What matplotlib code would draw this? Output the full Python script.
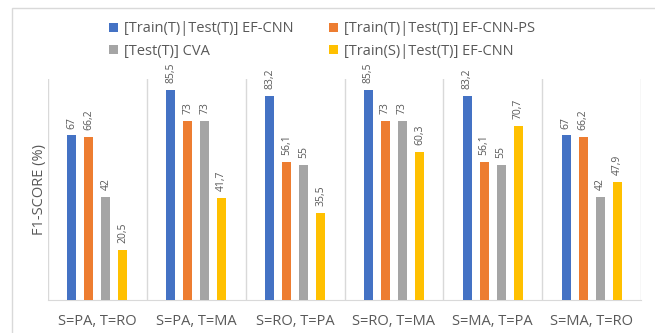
import matplotlib.pyplot as plt
import numpy as np
from matplotlib.patches import Rectangle

plt.rcParams['font.family'] = ['Open Sans', 'DejaVu Sans']

categories = ["S=PA, T=RO", "S=PA, T=MA", "S=RO, T=PA",
              "S=RO, T=MA", "S=MA, T=PA", "S=MA, T=RO"]
series_names = ["[Train(T)|Test(T)] EF-CNN", "[Train(T)|Test(T)] EF-CNN-PS",
                "[Test(T)] CVA", "[Train(S)|Test(T)] EF-CNN"]
ef_cnn = [67, 85.5, 83.2, 85.5, 83.2, 67]
ef_cnn_ps = [66.2, 73, 56.1, 73, 56.1, 66.2]
cva = [42, 73, 55, 73, 55, 42]
ef_cnn_src = [20.5, 41.7, 35.5, 60.3, 70.7, 47.9]

colors = ["#4472C4", "#ED7D31", "#A5A5A5", "#FFC000"]
text_gray = "#595959"
line_gray = "#D9D9D9"

fig = plt.figure(figsize=(6.55, 3.33), dpi=100)
# outer chart frame
fig.patches.append(Rectangle((12 / 655, -0.1), 1.0, 1.1 - 8 / 333,
                             transform=fig.transFigure, fill=False,
                             edgecolor=line_gray, linewidth=1))

ax = fig.add_axes([48 / 655, 33 / 333, 593 / 655, 221 / 333])
x = np.arange(len(categories))
offsets = [-0.258, -0.086, 0.086, 0.258]
all_series = [ef_cnn, ef_cnn_ps, cva, ef_cnn_src]

handles = []
for vals, off, col, name in zip(all_series, offsets, colors, series_names):
    bars = ax.bar(x + off, vals, width=0.09, color=col, label=name, zorder=3)
    handles.append(bars)
    for xi, v in zip(x + off, vals):
        ax.annotate(f"{v:g}".replace(".", ","), (xi, v), xytext=(0, 5),
                    textcoords="offset points", rotation=90, ha="center",
                    va="bottom", fontsize=7.5, color=text_gray,
                    annotation_clip=False)

ax.set_xlim(-0.5, len(categories) - 0.5)
ax.set_ylim(0, 90)
ax.set_xticks(x)
ax.set_xticklabels(categories, fontsize=10.5, color=text_gray)
ax.set_xticks(np.arange(-0.5, len(categories), 1), minor=True)
ax.grid(which="minor", axis="x", color=line_gray, linewidth=1)
ax.tick_params(axis="x", which="both", length=0, pad=10)
ax.set_yticks([])
for side in ["top", "right", "left"]:
    ax.spines[side].set_visible(False)
ax.spines["bottom"].set_color(line_gray)
ax.set_ylabel("F1-SCORE (%)", fontsize=10.5, color=text_gray)
ax.yaxis.set_label_coords(-1 / 593, 0.5)

# legend filled row by row as in the reference
order = [0, 2, 1, 3]
fig.legend(handles=[handles[i] for i in order],
           labels=[series_names[i] for i in order], loc="center",
           bbox_to_anchor=(322 / 655, 1 - 40 / 333), ncol=2, frameon=False,
           fontsize=10.5, labelcolor=text_gray, handlelength=0.6,
           handleheight=0.6, handletextpad=0.4, columnspacing=2.5,
           labelspacing=0.5)

fig.savefig("out.png", dpi=100)
